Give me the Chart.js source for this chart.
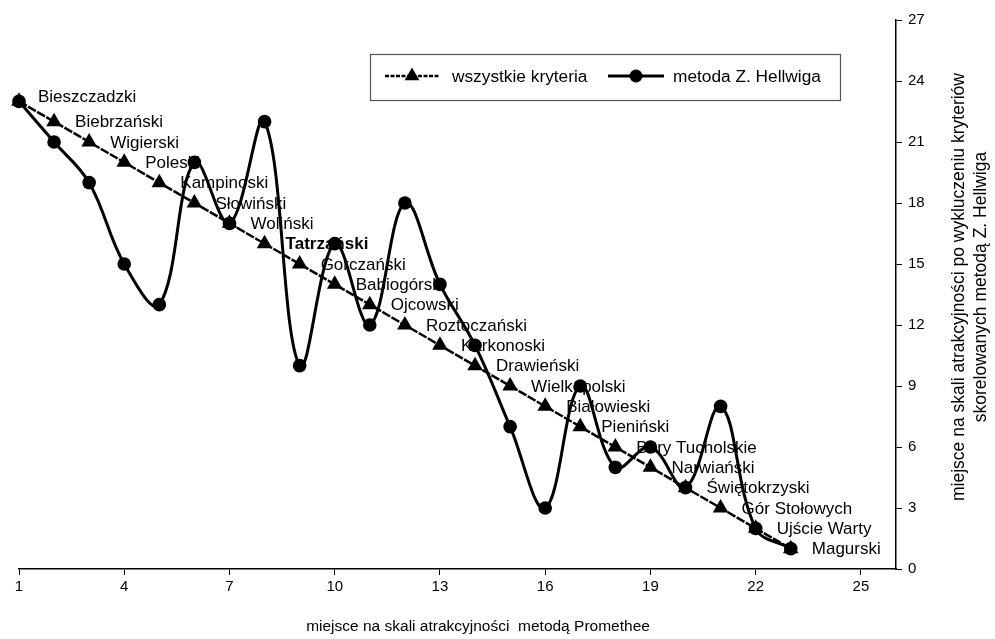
<!DOCTYPE html>
<html>
<head>
<meta charset="utf-8">
<script src="https://cdn.jsdelivr.net/npm/chart.js@4/dist/chart.umd.min.js"></script>
<style>
  html, body { margin: 0; padding: 0; background: #fff; }
  #wrap { width: 995px; height: 639px; }
</style>
</head>
<body>
<div id="wrap"><canvas id="c" width="995" height="639"></canvas></div>
<script>
// ---- data ----
const prometheeRank = [1,2,3,4,5,6,7,8,9,10,11,12,13,14,15,16,17,18,19,20,21,22,23];
const allCriteria = [23,22,21,20,19,18,17,16,15,14,13,12,11,10,9,8,7,6,5,4,3,2,1];
const hellwig = [23,21,19,15,13,20,17,22,10,16,12,18,14,11,7,3,9,5,6,4,8,2,1];
const parkNames = ["Bieszczadzki","Biebrzański","Wigierski","Poleski","Kampinoski","Słowiński","Woliński","Tatrzański","Gorczański","Babiogórski","Ojcowski","Roztoczański","Karkonoski","Drawieński","Wielkopolski","Białowieski","Pieniński","Bory Tucholskie","Narwiański","Świętokrzyski","Gór Stołowych","Ujście Warty","Magurski"];
const boldNames = ["Tatrzański"];
const xTicks = [1,4,7,10,13,16,19,22,25];
const yTicks = [0,3,6,9,12,15,18,21,24,27];
const seriesNames = ["wszystkie kryteria","metoda Z. Hellwiga"];
const xTitle = "miejsce na skali atrakcyjności  metodą Promethee";
const yTitleLines = ["miejsce na skali atrakcyjności po wykluczeniu kryteriów","skorelowanych metodą Z. Hellwiga"];

const FONT = "'Liberation Sans', Arial, sans-serif";

const labelsPlugin = {
  id: 'parkLabels',
  beforeDatasetsDraw(chart) {
    const ctx = chart.ctx, xs = chart.scales.x, ys = chart.scales.y;
    ctx.save();
    ctx.fillStyle = '#000';
    ctx.textAlign = 'left';
    ctx.textBaseline = 'middle';
    parkNames.forEach((name, i) => {
      const px = xs.getPixelForValue(prometheeRank[i]);
      const py = ys.getPixelForValue(allCriteria[i]);
      const bold = boldNames.includes(name);
      ctx.font = (bold ? 'bold ' : '') + '17px ' + FONT;
      const dx = i === 0 ? 19 : 21;
      const dy = i === 0 ? -4 : 1;
      ctx.fillText(name, px + dx, py + dy);
    });
    ctx.restore();
  }
};

const decorPlugin = {
  id: 'decor',
  afterDraw(chart) {
    const ctx = chart.ctx;
    ctx.save();
    // legend box
    ctx.strokeStyle = '#555';
    ctx.lineWidth = 1.2;
    ctx.strokeRect(370.5, 54.5, 470, 46);
    const ly = 76;
    // item 1
    ctx.strokeStyle = '#000';
    ctx.lineWidth = 2.5;
    ctx.setLineDash([4,1.5]);
    ctx.beginPath(); ctx.moveTo(385, ly); ctx.lineTo(440, ly); ctx.stroke();
    ctx.setLineDash([]);
    ctx.fillStyle = '#000';
    const tr = 8.5, tx = 412;
    ctx.beginPath();
    ctx.moveTo(tx, ly - tr);
    ctx.lineTo(tx + tr * 0.866, ly + tr * 0.5);
    ctx.lineTo(tx - tr * 0.866, ly + tr * 0.5);
    ctx.closePath(); ctx.fill();
    // item 2
    ctx.lineWidth = 3;
    ctx.beginPath(); ctx.moveTo(608, ly); ctx.lineTo(664, ly); ctx.stroke();
    ctx.beginPath(); ctx.arc(636, ly, 6.5, 0, Math.PI * 2); ctx.fill();
    ctx.font = '17.3px ' + FONT;
    ctx.textAlign = 'left';
    ctx.textBaseline = 'middle';
    ctx.fillText(seriesNames[0], 452, ly + 1);
    ctx.fillText(seriesNames[1], 673, ly + 1);
    // x title
    ctx.textAlign = 'center';
    ctx.font = '15.5px ' + FONT;
    ctx.fillText(xTitle, 478, 627);
    // y title
    ctx.font = '17.5px ' + FONT;
    ctx.translate(959, 287);
    ctx.rotate(-Math.PI / 2);
    ctx.fillText(yTitleLines[0], 0, 0);
    ctx.fillText(yTitleLines[1], 0, 22);
    ctx.restore();
  }
};

const pts = (xsArr, ysArr) => xsArr.map((x, i) => ({ x: x, y: ysArr[i] }));

new Chart(document.getElementById('c'), {
  type: 'line',
  data: {
    datasets: [
      {
        label: seriesNames[1],
        data: pts(prometheeRank, hellwig),
        borderColor: '#000',
        backgroundColor: '#000',
        borderWidth: 3,
        pointStyle: 'circle',
        pointRadius: 6.8,
        pointBorderWidth: 0,
        tension: 0.38,
        clip: false,
        fill: false
      },
      {
        label: seriesNames[0],
        data: pts(prometheeRank, allCriteria),
        borderColor: '#000',
        backgroundColor: '#000',
        borderWidth: 2.5,
        borderDash: [9, 1.5],
        pointStyle: 'triangle',
        pointRadius: 9,
        pointBorderWidth: 0,
        tension: 0,
        clip: false,
        fill: false
      }
    ]
  },
  options: {
    responsive: false,
    animation: false,
    devicePixelRatio: 1,
    layout: { padding: { left: 19, top: 20, right: 0, bottom: 0 } },
    plugins: { legend: { display: false }, tooltip: { enabled: false } },
    scales: {
      x: {
        type: 'linear',
        position: 'bottom',
        min: 1, max: 26,
        afterBuildTicks: s => { s.ticks = xTicks.map(v => ({ value: v })); },
        afterFit: s => { s.height = 70; },
        grid: { drawOnChartArea: false, drawTicks: true, tickLength: 6, color: '#000', lineWidth: 1 },
        border: { display: true, color: '#000', width: 1.5 },
        ticks: { color: '#000', font: { family: FONT, size: 15 }, padding: 3, maxRotation: 0, autoSkip: false }
      },
      y: {
        type: 'linear',
        position: 'right',
        min: 0, max: 27,
        afterBuildTicks: s => { s.ticks = yTicks.map(v => ({ value: v })); },
        afterFit: s => { s.width = 99; },
        grid: { drawOnChartArea: false, drawTicks: true, tickLength: 6, color: '#000', lineWidth: 1 },
        border: { display: true, color: '#000', width: 1.5 },
        ticks: { color: '#000', font: { family: FONT, size: 15 }, padding: 6, autoSkip: false }
      }
    }
  },
  plugins: [labelsPlugin, decorPlugin]
});
</script>
</body>
</html>
